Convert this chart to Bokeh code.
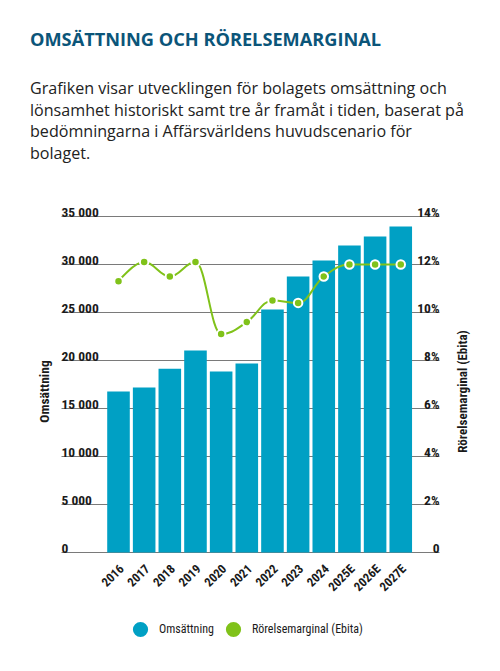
import math
from bokeh.plotting import figure
from bokeh.models import Range1d, Div, Label, Legend, LegendItem, ColumnDataSource
from bokeh.layouts import column
from bokeh.embed import file_html
from bokeh.resources import INLINE
from bokeh.core.properties import value

# --- data -------------------------------------------------------------
years = ["2016", "2017", "2018", "2019", "2020", "2021", "2022", "2023",
         "2024", "2025E", "2026E", "2027E"]
revenue = [16770, 17190, 19130, 21040, 18850, 19690, 25310, 28750,
           30420, 31980, 32920, 33960]          # Omsättning
margin = [11.3, 12.1, 11.5, 12.1, 9.1, 9.6, 10.5, 10.4,
          11.5, 12.0, 12.0, 12.0]               # Rörelsemarginal (Ebita), %

rev_ticks = [0, 5000, 10000, 15000, 20000, 25000, 30000, 35000]
rev_tick_labels = ["0", "5 000", "10 000", "15 000", "20 000", "25 000",
                   "30 000", "35 000"]
pct_ticks = [0, 2, 4, 6, 8, 10, 12, 14]
pct_tick_labels = ["0", "2%", "4%", "6%", "8%", "10%", "12%", "14%"]

title_text = "OMSÄTTNING OCH RÖRELSEMARGINAL"
intro_lines = [
    "Grafiken visar utvecklingen för bolagets omsättning och",
    "lönsamhet historiskt samt tre år framåt i tiden, baserat på",
    "bedömningarna i Affärsvärldens huvudscenario för",
    "bolaget.",
]

# --- style ------------------------------------------------------------
BLUE = "#00a0c4"
GREEN = "#80c21a"
GRID = "#7a7a7a"
INK = "#1a1a1a"
NARROW = "'Roboto Condensed', 'Roboto', sans-serif"

# --- geometry of the chart canvas (pixels) ----------------------------
W, H = 500, 481                 # chart canvas below the header
HEADER_H = 671 - H
CAT_PX = 25.66                  # distance between category centres
FIRST_CAT_PX = 118              # centre of the first bar
PLOT_LEFT, PLOT_RIGHT = 61, 439 # extent of the grid lines
ZERO_PX = 552 - HEADER_H        # zero line, from canvas top
PX_PER_UNIT = 336 / 35000       # revenue scale
PX_PER_PCT = 336 / 14           # margin scale

def px_to_x(px):
    return (px - FIRST_CAT_PX) / CAT_PX

x_start, x_end = px_to_x(0), px_to_x(W)
grid_x0, grid_x1 = px_to_x(PLOT_LEFT), px_to_x(PLOT_RIGHT)
y_end = ZERO_PX / PX_PER_UNIT
y_start = -(H - ZERO_PX) / PX_PER_UNIT
pct_end = ZERO_PX / PX_PER_PCT
pct_start = -(H - ZERO_PX) / PX_PER_PCT

# --- header -----------------------------------------------------------
header = Div(
    width=W, height=HEADER_H, margin=(0, 0, 0, 0),
    text=(
        f'<div style="position:relative;width:{W}px;height:{HEADER_H}px;">'
        '<div style="position:absolute;left:30px;top:27px;white-space:nowrap;'
        "font:700 18.2px 'Open Sans',sans-serif;color:#0b5579;\">"
        + title_text +
        '</div>'
        '<div style="position:absolute;left:30px;top:78px;white-space:nowrap;'
        "font:400 16.1px/21.7px 'Open Sans',sans-serif;color:#222;\">"
        + "<br>".join(intro_lines) +
        '</div></div>'
    ),
)

# --- chart ------------------------------------------------------------
n = len(years)
xs = list(range(n))

p = figure(width=W, height=H, output_backend="svg", toolbar_location=None,
           x_range=Range1d(x_start, x_end), y_range=Range1d(y_start, y_end),
           x_axis_location=None, y_axis_location=None,
           min_border=0, outline_line_color=None, margin=(0, 0, 0, 0),
           background_fill_color="white", border_fill_color="white")
p.extra_y_ranges = {"pct": Range1d(pct_start, pct_end)}
p.xgrid.visible = False
p.ygrid.visible = False

# horizontal grid lines at the revenue ticks
p.segment(x0=[grid_x0] * len(rev_ticks), x1=[grid_x1] * len(rev_ticks),
          y0=rev_ticks, y1=rev_ticks, line_color=GRID, line_width=1)

# bars
src = ColumnDataSource(dict(x=xs, top=revenue))
p.vbar(x="x", top="top", bottom=0, width=0.88, source=src, fill_color=BLUE,
       line_color=None)

# smoothed margin line (cubic Bezier segments through the data points)
def spline_segments(px, py, smoothing=1.5):
    denom = smoothing + 1
    left, right = [], []
    for i in range(len(px)):
        x, y = px[i], py[i]
        if i == 0 or i == len(px) - 1:
            left.append((x, y)); right.append((x, y)); continue
        lx, ly = px[i - 1], py[i - 1]
        nx, ny = px[i + 1], py[i + 1]
        lcx = (smoothing * x + lx) / denom
        lcy = (smoothing * y + ly) / denom
        rcx = (smoothing * x + nx) / denom
        rcy = (smoothing * y + ny) / denom
        corr = (rcy - lcy) * (rcx - x) / (rcx - lcx) + y - rcy
        lcy += corr; rcy += corr
        if lcy > ly and lcy > y:
            lcy = max(ly, y); rcy = 2 * y - lcy
        elif lcy < ly and lcy < y:
            lcy = min(ly, y); rcy = 2 * y - lcy
        if rcy > ny and rcy > y:
            rcy = max(ny, y); lcy = 2 * y - rcy
        elif rcy < ny and rcy < y:
            rcy = min(ny, y); lcy = 2 * y - rcy
        left.append((lcx, lcy)); right.append((rcx, rcy))
    seg = dict(x0=[], y0=[], x1=[], y1=[], cx0=[], cy0=[], cx1=[], cy1=[])
    for i in range(1, len(px)):
        seg["x0"].append(px[i - 1]); seg["y0"].append(py[i - 1])
        seg["x1"].append(px[i]); seg["y1"].append(py[i])
        seg["cx0"].append(right[i - 1][0]); seg["cy0"].append(right[i - 1][1])
        seg["cx1"].append(left[i][0]); seg["cy1"].append(left[i][1])
    return seg

p.bezier(x0="x0", y0="y0", x1="x1", y1="y1", cx0="cx0", cy0="cy0",
         cx1="cx1", cy1="cy1", source=ColumnDataSource(spline_segments(xs, margin)),
         line_color=GREEN, line_width=2, y_range_name="pct")
p.scatter(xs, margin, size=8.5, fill_color=GREEN, line_color="white",
          line_width=2, y_range_name="pct")

# value-axis labels sitting on top of the grid lines
p.text(x=[grid_x0] * len(rev_ticks), y=rev_ticks, text=rev_tick_labels,
       text_font=value(NARROW), text_font_style="bold", text_font_size="13.5px",
       text_color=INK, text_align="left", text_baseline="alphabetic",
       y_offset=-4.5)
p.text(x=[grid_x1] * len(pct_ticks), y=pct_ticks, text=pct_tick_labels,
       text_font=value(NARROW), text_font_style="bold", text_font_size="13.5px",
       text_color=INK, text_align="right", text_baseline="alphabetic",
       y_offset=-4.5, y_range_name="pct")

# category labels, rotated
p.text(x=xs, y=[0] * n, text=years, angle=math.pi / 4,
       text_font=value(NARROW), text_font_style="bold", text_font_size="12.5px",
       text_color=INK, text_align="right", text_baseline="middle",
       x_offset=3, y_offset=14)

# axis titles
AXIS_TITLE_Y = 671 - 391
for txt, sx, fs in (("Omsättning", 43, "13.5px"),
                    ("Rörelsemarginal (Ebita)", 462, "13px")):
    p.add_layout(Label(x=sx, y=AXIS_TITLE_Y, x_units="screen", y_units="screen",
                       text=txt, angle=math.pi / 2, text_align="center",
                       text_baseline="middle", text_font=NARROW,
                       text_font_style="bold", text_font_size=fs,
                       text_color=INK))

# legend
nan = float("nan")
r_blue = p.scatter([nan], [nan], size=10, fill_color=BLUE, line_color=None)
r_green = p.scatter([nan], [nan], size=10, fill_color=GREEN, line_color=None)
legend = Legend(items=[LegendItem(label="Omsättning", renderers=[r_blue]),
                       LegendItem(label="Rörelsemarginal (Ebita)", renderers=[r_green])],
                location=(121, 671 - 648), orientation="horizontal",
                glyph_width=38, glyph_height=38, label_standoff=0, spacing=-8,
                padding=0, margin=0, border_line_color=None,
                background_fill_alpha=0, label_text_font=NARROW,
                label_text_font_size="12px", label_text_color=INK)
p.add_layout(legend, "center")

layout = column(header, p, spacing=0, margin=(0, 0, 0, 0))
open("out.html", "w").write(file_html(layout, INLINE))
